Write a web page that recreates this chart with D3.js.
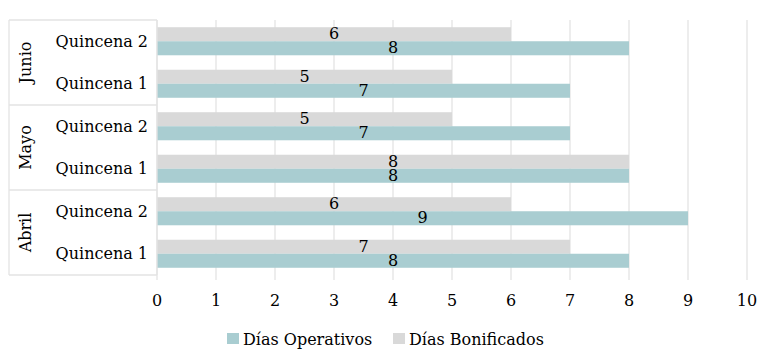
<!DOCTYPE html>
<html>
<head>
<meta charset="utf-8">
<script src="https://cdn.jsdelivr.net/npm/d3@7"></script>
<style>
  body { margin: 0; background: #fff; }
</style>
</head>
<body>
<div id="chart"></div>
<script>
// data, listed top to bottom as in the chart
const months = ["Junio", "Mayo", "Abril"];
const quincenas = ["Quincena 2", "Quincena 1"];
const operativos = [8, 7, 7, 8, 9, 8];
const bonificados = [6, 5, 5, 8, 6, 7];
const xTicks = [0, 1, 2, 3, 4, 5, 6, 7, 8, 9, 10];
const legendLabels = ["Días Operativos", "Días Bonificados"];

const width = 780, height = 352;
const margins = { top: 20, right: 33, bottom: 77, left: 157 };
const innerWidth = width - margins.left - margins.right;
const innerHeight = height - margins.top - margins.bottom;

const colorOp = "#a9cdd1";
const colorBon = "#d9d9d9";
const lineColor = "#e3e3e3";
const fontFamily = "'DejaVu Serif', serif";

const rows = [];
months.forEach((m, mi) => {
  quincenas.forEach((q, qi) => {
    const i = mi * quincenas.length + qi;
    rows.push({ id: m + "-" + q, month: m, label: q, op: operativos[i], bon: bonificados[i] });
  });
});

const svg = d3.select("#chart").append("svg")
  .attr("width", width)
  .attr("height", height)
  .attr("font-family", fontFamily)
  .attr("font-size", "16px");

const mainG = svg.append("g")
  .attr("transform", `translate(${margins.left},${margins.top})`);

const xScale = d3.scaleLinear().domain([0, 10]).range([0, innerWidth]);
const yScale = d3.scaleBand()
  .domain(rows.map((d) => d.id))
  .range([0, innerHeight])
  .paddingInner(0.34)
  .paddingOuter(0.17);
const sub = d3.scaleBand().domain(["bon", "op"]).range([0, yScale.bandwidth()]);

// grid + ticks
mainG.append("g").selectAll("line")
  .data(xTicks)
  .join("line")
  .attr("x1", (d) => xScale(d)).attr("x2", (d) => xScale(d))
  .attr("y1", 0).attr("y2", innerHeight + 5)
  .attr("stroke", lineColor).attr("stroke-width", 1.3);

// bars
const rowG = mainG.append("g").selectAll("g")
  .data(rows)
  .join("g")
  .attr("transform", (d) => `translate(0,${yScale(d.id)})`);

rowG.append("rect")
  .attr("x", 0).attr("y", sub("bon"))
  .attr("width", (d) => xScale(d.bon)).attr("height", sub.bandwidth())
  .attr("fill", colorBon);
rowG.append("rect")
  .attr("x", 0).attr("y", sub("op"))
  .attr("width", (d) => xScale(d.op)).attr("height", sub.bandwidth())
  .attr("fill", colorOp);

rowG.append("text")
  .attr("x", (d) => xScale(d.bon / 2))
  .attr("y", sub("bon") + sub.bandwidth() / 2)
  .attr("dy", "0.3em")
  .attr("text-anchor", "middle")
  .text((d) => d.bon);
rowG.append("text")
  .attr("x", (d) => xScale(d.op / 2))
  .attr("y", sub("op") + sub.bandwidth() / 2)
  .attr("dy", "0.3em")
  .attr("text-anchor", "middle")
  .text((d) => d.op);

// x axis labels
mainG.append("g").selectAll("text")
  .data(xTicks)
  .join("text")
  .attr("x", (d) => xScale(d))
  .attr("y", innerHeight + 31)
  .attr("text-anchor", "middle")
  .text((d) => d);

// hierarchical y axis
const axisG = mainG.append("g");
const step = yScale.step();
const groupH = step * quincenas.length;
const leftX = -148;

axisG.append("line")
  .attr("x1", 0).attr("x2", 0).attr("y1", 0).attr("y2", innerHeight)
  .attr("stroke", lineColor).attr("stroke-width", 1.3);
axisG.append("line")
  .attr("x1", leftX).attr("x2", leftX).attr("y1", 0).attr("y2", innerHeight)
  .attr("stroke", lineColor).attr("stroke-width", 1.3);
axisG.selectAll("line.sep")
  .data(d3.range(months.length + 1))
  .join("line")
  .attr("class", "sep")
  .attr("x1", leftX).attr("x2", 0)
  .attr("y1", (i) => i * groupH).attr("y2", (i) => i * groupH)
  .attr("stroke", lineColor).attr("stroke-width", 1.3);

axisG.selectAll("text.q")
  .data(rows)
  .join("text")
  .attr("class", "q")
  .attr("x", -9)
  .attr("y", (d) => yScale(d.id) + yScale.bandwidth() / 2)
  .attr("dy", "0.35em")
  .attr("text-anchor", "end")
  .text((d) => d.label);

axisG.selectAll("text.m")
  .data(months)
  .join("text")
  .attr("class", "m")
  .attr("transform", (d, i) => `translate(${leftX + 16},${i * groupH + groupH / 2}) rotate(-90)`)
  .attr("dy", "0.35em")
  .attr("text-anchor", "middle")
  .text((d) => d);

// legend
const legend = svg.append("g").attr("transform", "translate(227,339)");
const legendColors = [colorOp, colorBon];
const legendX = [0, 166];
legendLabels.forEach((t, i) => {
  const g = legend.append("g").attr("transform", `translate(${legendX[i]},0)`);
  g.append("rect").attr("x", 0).attr("y", -6).attr("width", 12).attr("height", 11).attr("fill", legendColors[i]);
  g.append("text").attr("x", 16).attr("y", 0).attr("dy", "0.35em").text(t);
});
</script>
</body>
</html>
